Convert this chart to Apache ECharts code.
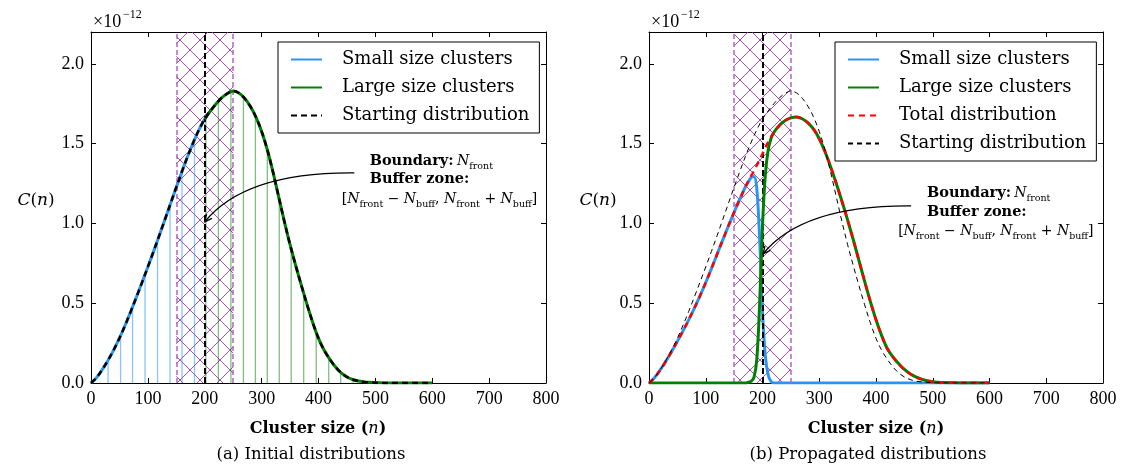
<!DOCTYPE html>
<html><head><meta charset="utf-8">
<script src="https://cdn.jsdelivr.net/npm/echarts@6/dist/echarts.min.js"></script>
<style>html,body{margin:0;padding:0;background:#fff}#c{width:1122px;height:465px}</style>
</head><body><div id="c"></div>
<script>
// ---------- DATA (y in units of 1e-12) ----------
const nStart = [0,10,20,30,40,50,60,70,80,90,100,110,120,130,140,150,160,170,180,190,200,
  210,220,230,240,250,260,270,280,290,300,310,320,330,340,350,360,370,380,390,400,
  410,420,430,440,450,460,470,480,490,500,510,520,530,540,550,560,570,580,590,600];
const startVals = [0,0.035,0.085,0.143,0.208,0.281,0.362,0.449,0.54,0.633,0.728,0.825,0.924,1.025,1.126,1.227,1.326,1.421,1.509,1.588,1.654,
  1.705,1.75,1.788,1.815,1.83,1.818,1.785,1.735,1.667,1.577,1.462,1.322,1.167,1.012,0.867,0.735,0.61,0.49,0.378,0.28,
  0.205,0.148,0.10,0.063,0.038,0.022,0.012,0.007,0.004,0.002,0.001,0.0005,0,0,0,0,0,0,0,0];
// initial split: small clusters up to the front, large clusters beyond it
const frontIndex = 20; // index of n = 200 in nStart

// vertical fill lines under the initial curves
const stemSmallN = [30,52,73,95,117,139,160,182];
const stemSmallV = [0.143,0.297,0.472,0.68,0.895,1.116,1.326,1.525];
const stemLargeN = [202,224,246,268,289,310,331,352,374,396,418,439,461,483];
const stemLargeV = [1.664,1.765,1.823,1.792,1.674,1.462,1.152,0.84,0.562,0.319,0.159,0.067,0.021,0.006];

// propagated distributions
const nProp = [0,10,20,30,40,50,60,70,80,90,100,110,120,130,140,150,160,170,175,180,185,190,195,200,205,210,215,220,
  230,240,250,260,270,280,290,300,310,320,330,340,350,360,370,380,390,400,410,420,430,440,450,460,470,480,490,500,
  510,520,530,540,550,560,570,580,590,600];
const propSmall = [0,0.035,0.083,0.138,0.198,0.261,0.327,0.396,0.469,0.547,0.63,0.717,0.807,0.897,0.985,1.07,1.152,1.23,1.26,1.288,1.295,1.215,0.90,0.45,0.17,0.05,0.01,0,
  0,0,0,0,0,0,0,0,0,0,0,0,0,0,0,0,0,0,0,0,0,0,0,0,0,0,0,0,
  0,0,0,0,0,0,0,0,0,0];
const propLarge = [0,0,0,0,0,0,0,0,0,0,0,0,0,0,0,0,0,0,0.005,0.01,0.035,0.15,0.50,0.987,1.305,1.46,1.532,1.57,
  1.615,1.645,1.662,1.668,1.656,1.631,1.591,1.531,1.451,1.356,1.251,1.139,1.021,0.897,0.767,0.637,0.512,0.397,0.297,0.215,0.163,0.12,0.085,0.058,0.038,0.024,0.014,0.008,
  0.005,0.003,0.002,0.001,0,0,0,0,0,0];
const propTotal = [0,0.035,0.083,0.138,0.198,0.261,0.327,0.396,0.469,0.547,0.63,0.717,0.807,0.897,0.985,1.07,1.152,1.23,1.265,1.298,1.33,1.365,1.40,1.437,1.475,1.51,1.542,1.57,
  1.615,1.645,1.662,1.668,1.656,1.631,1.591,1.531,1.451,1.356,1.251,1.139,1.021,0.897,0.767,0.637,0.512,0.397,0.297,0.215,0.163,0.12,0.085,0.058,0.038,0.024,0.014,0.008,
  0.005,0.003,0.002,0.001,0,0,0,0,0,0];

const bufferZone = [150, 250];
const frontN = 200;
const xTicks = {min:0, max:800, step:100};
const yTicks = {min:0, max:2.2, step:0.5};

const labels = {
  aS:'Small size clusters', aL:'Large size clusters', aT:'Starting distribution',
  bS:'Small size clusters', bL:'Large size clusters', bR:'Total distribution', bT:'Starting distribution'
};

// ---------- STYLE ----------
const serifNum = '"Liberation Serif","DejaVu Serif",serif';
const serif = '"DejaVu Serif","Liberation Serif",serif';
const BLUE = '#2a94f5', GREEN = '#008000', RED = '#ff0000', PURPLE = '#800080', PURPLE2 = '#9a3aaa';

const zip = (a, b) => a.map((v, i) => [v, b[i]]);

const hatch = document.createElement('canvas');
hatch.width = 20; hatch.height = 20;
(function(){
  const c = hatch.getContext('2d');
  c.strokeStyle = 'rgba(150,50,165,0.85)'; c.lineWidth = 1;
  c.beginPath();
  c.moveTo(-3,-3); c.lineTo(23,23);
  c.moveTo(23,-3); c.lineTo(-3,23);
  c.stroke();
})();

const chart = echarts.init(document.getElementById('c'));

const grids = [
  {left:91, top:32, width:455, height:351},
  {left:649, top:32, width:454, height:351}
];

function xAxes(g){
  const base = {gridIndex:g, type:'value', min:xTicks.min, max:xTicks.max, interval:xTicks.step,
    splitLine:{show:false}, axisLine:{onZero:false, lineStyle:{color:'#000', width:1}},
    axisTick:{inside:true, length:5, lineStyle:{color:'#000'}}};
  return [
    Object.assign({}, base, {position:'bottom', axisLabel:{fontFamily:serifNum, fontSize:18, color:'#000', margin:7}}),
    Object.assign({}, base, {position:'top', axisLabel:{show:false}})
  ];
}
function yAxes(g){
  const base = {gridIndex:g, type:'value', min:yTicks.min, max:yTicks.max, interval:yTicks.step,
    splitLine:{show:false}, axisLine:{onZero:false, lineStyle:{color:'#000', width:1}},
    axisTick:{inside:true, length:5, lineStyle:{color:'#000'}}};
  return [
    Object.assign({}, base, {position:'left', axisLabel:{fontFamily:serifNum, fontSize:18, color:'#000', margin:7,
      showMaxLabel:false, formatter:v => v.toFixed(1)}}),
    Object.assign({}, base, {position:'right', axisLabel:{show:false}})
  ];
}

function zoneSeries(g){
  return {
    type:'line', name:'zone'+g, xAxisIndex:2*g, yAxisIndex:2*g, data:[[bufferZone[0],0]],
    symbol:'none', lineStyle:{opacity:0}, z:1, silent:true,
    markArea:{silent:true, itemStyle:{color:{image:hatch, repeat:'repeat'}, opacity:1},
      data:[[{xAxis:bufferZone[0]},{xAxis:bufferZone[1]}]]}
  };
}
function boundarySeries(g){
  return {
    type:'line', name:'bnd'+g, xAxisIndex:2*g, yAxisIndex:2*g, data:[[frontN,0]],
    symbol:'none', lineStyle:{opacity:0}, z:3, silent:true,
    markLine:{silent:true, symbol:['none','none'], label:{show:false},
      data:[
        {xAxis:bufferZone[0], lineStyle:{color:'#b266c4', width:1.5, type:[5,3]}},
        {xAxis:bufferZone[1], lineStyle:{color:'#b266c4', width:1.5, type:[5,3]}},
        {xAxis:frontN, lineStyle:{color:'#000', width:2, type:[6,3]}}
      ]}
  };
}
function curve(name, g, data, color, width, dash, z){
  return {type:'line', name, xAxisIndex:2*g, yAxisIndex:2*g, data, symbol:'none', showSymbol:false,
    smooth:0.35, lineStyle:{color, width, type:dash || 'solid'}, itemStyle:{color}, z, silent:true};
}

const series = [
  zoneSeries(0), zoneSeries(1),
  {type:'bar', name:'stemS', xAxisIndex:0, yAxisIndex:0, data:zip(stemSmallN, stemSmallV), barWidth:1.3,
   itemStyle:{color:'rgba(42,148,245,0.55)'}, z:2, silent:true},
  {type:'bar', name:'stemL', xAxisIndex:0, yAxisIndex:0, data:zip(stemLargeN, stemLargeV), barWidth:1.3, barGap:'-100%',
   itemStyle:{color:'rgba(0,128,0,0.5)'}, z:2, silent:true},
  boundarySeries(0), boundarySeries(1),
  curve('aS', 0, zip(nStart.slice(0, frontIndex + 1), startVals.slice(0, frontIndex + 1)), BLUE, 3, null, 4),
  curve('aL', 0, zip(nStart.slice(frontIndex), startVals.slice(frontIndex)), GREEN, 3, null, 5),
  curve('aT', 0, zip(nStart, startVals), '#000', 2.5, [6,4], 6),
  curve('bS', 1, zip(nProp, propSmall), BLUE, 3, null, 4),
  curve('bL', 1, zip(nProp, propLarge), GREEN, 3, null, 5),
  curve('bR', 1, zip(nProp, propTotal), RED, 2.5, [6,5], 6),
  curve('bT', 1, zip(nStart, startVals), '#000', 1, [5,4], 7)
];

function legend(left, data){
  return {orient:'vertical', left, top:42, itemWidth:31, itemHeight:12, itemGap:7,
    padding:[7,10,7,12], borderColor:'#000', borderWidth:1, backgroundColor:'#fff',
    selectedMode:false, data, itemStyle:{opacity:0},
    textStyle:{fontFamily:serif, fontSize:18, color:'#000', padding:[0,0,0,15], lineHeight:21},
    formatter:n => labels[n]};
}

chart.setOption({
  animation:false,
  grid:grids,
  xAxis:[...xAxes(0), ...xAxes(1)],
  yAxis:[...yAxes(0), ...yAxes(1)],
  legend:[legend(278, ['aS','aL','aT']), legend(835, ['bS','bL','bR','bT'])],
  series
});

// ---------- ANNOTATIONS ----------
const rich = {
  b:{fontFamily:serif, fontSize:14.5, fontWeight:'bold', color:PURPLE},
  i:{fontFamily:serif, fontSize:14, fontStyle:'italic', color:PURPLE2},
  s:{fontFamily:serif, fontSize:9.5, color:PURPLE2, verticalAlign:'bottom', lineHeight:21},
  r:{fontFamily:serif, fontSize:14, color:PURPLE2}
};
const line1 = '{b|Boundary:} {i|N}{s|front}';
const line2 = '{b|Buffer zone:}';
const line3 = '{r|[}{i|N}{s|front}{r| − }{i|N}{s|buff}{r|, }{i|N}{s|front}{r| + }{i|N}{s|buff}{r|]}';

const annot = [
  {g:0, t1:[490,1.39], t2:[490,1.275], t3:[441,1.15], from:[463,1.317], tip:[200,1.01]},
  {g:1, t1:[490,1.19], t2:[490,1.07], t3:[439,0.95], from:[462,1.11], tip:[201,0.81]}
];
const px = (g, p) => chart.convertToPixel({xAxisIndex:2*g, yAxisIndex:2*g}, p);

const graphics = [];
annot.forEach(a => {
  [[a.t1,line1],[a.t2,line2],[a.t3,line3]].forEach(([p, txt]) => {
    const q = px(a.g, p);
    graphics.push({type:'text', z:20, style:{text:txt, rich, x:q[0], y:q[1], align:'left', verticalAlign:'middle'}});
  });
  const s = px(a.g, a.from), e = px(a.g, a.tip);
  const cp = [e[0] + 0.27 * (s[0] - e[0]), s[1] - 1];
  graphics.push({type:'bezierCurve', z:20, silent:true,
    shape:{x1:s[0], y1:s[1], x2:e[0], y2:e[1], cpx1:cp[0], cpy1:cp[1]},
    style:{stroke:'#000', lineWidth:1.3, fill:null}});
  const dx = cp[0] - e[0], dy = cp[1] - e[1], L = Math.hypot(dx, dy);
  const ux = dx / L, uy = dy / L, len = 8, ang = 0.45;
  const r = (c, sn) => [e[0] + len * (ux * c - uy * sn), e[1] + len * (ux * sn + uy * c)];
  graphics.push({type:'polyline', z:20, silent:true,
    shape:{points:[r(Math.cos(ang), Math.sin(ang)), e, r(Math.cos(ang), -Math.sin(ang))]},
    style:{stroke:'#000', lineWidth:1.3, fill:null}});
});

const titleTexts = [
  {x:318, y:429, text:'{b|Cluster size (}{i|n}{b|)}'},
  {x:876, y:429, text:'{b|Cluster size (}{i|n}{b|)}'},
  {x:311, y:455, text:'{r|(a) Initial distributions}'},
  {x:868, y:455, text:'{r|(b) Propagated distributions}'}
];
const tRich = {
  b:{fontFamily:serif, fontSize:16, fontWeight:'bold', color:'#000'},
  i:{fontFamily:serif, fontSize:16, fontStyle:'italic', color:'#000'},
  r:{fontFamily:serif, fontSize:16.5, color:'#000'}
};
titleTexts.forEach(t => graphics.push({type:'text', z:20, style:{text:t.text, rich:tRich, x:t.x, y:t.y, align:'center', verticalAlign:'middle'}}));

[[36, 91], [598, 649]].forEach(([cx, gx]) => {
  graphics.push({type:'text', z:20, style:{text:'{i|C}{r|(}{i|n}{r|)}', rich:{
    i:{fontFamily:serif, fontSize:17, fontStyle:'italic', color:'#000'},
    r:{fontFamily:serif, fontSize:17, color:'#000'}}, x:cx, y:201, align:'center', verticalAlign:'middle'}});
  graphics.push({type:'text', z:20, style:{text:'×10', fontFamily:serifNum, fontSize:18, fill:'#000', x:gx + 2, y:22, verticalAlign:'middle'}});
  graphics.push({type:'text', z:20, style:{text:'−12', fontFamily:serifNum, fontSize:12, fill:'#000', x:gx + 32, y:15, verticalAlign:'middle'}});
});

chart.setOption({graphic:graphics});
</script>
</body></html>
